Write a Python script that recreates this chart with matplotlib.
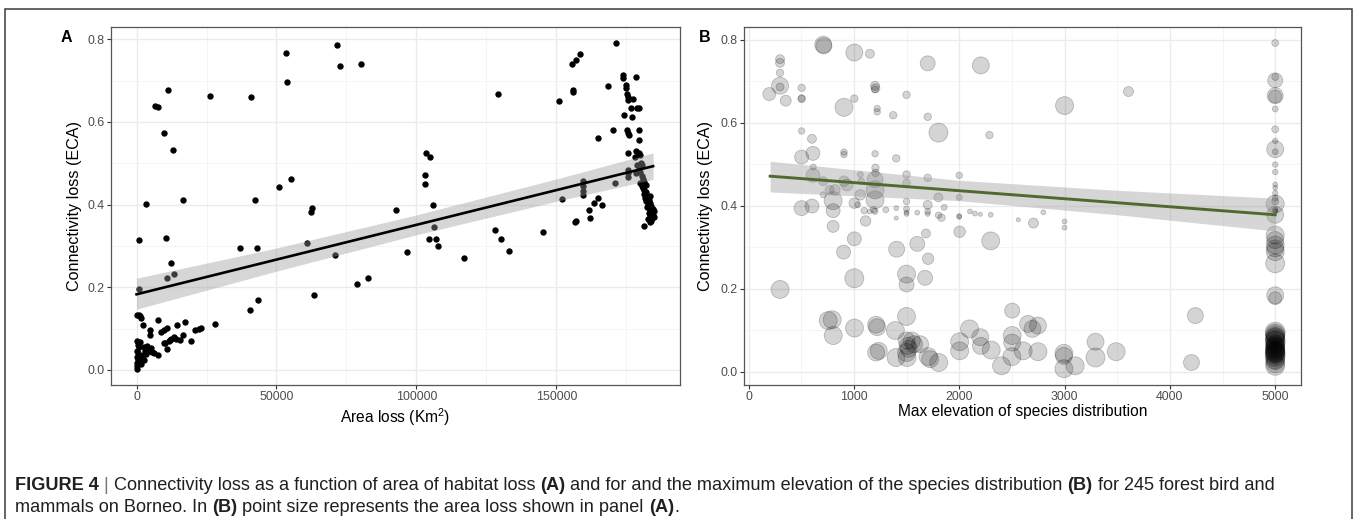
import numpy as np
import matplotlib
matplotlib.use("Agg")
import matplotlib.pyplot as plt
from matplotlib.patches import Rectangle

# ------------------------------------------------------------------ data
# Panel A: area loss (km2) vs connectivity loss (ECA)
area_loss_A = [
    71500, 53550, 72550, 80150, 53900, 26400, 40900, 11400, 6750, 7700,
    9700, 12900, 55100, 51050, 42400, 16450, 3550, 62550, 62200, 1050,
    10650, 36850, 42900, 60800, 12450, 13250, 10800, 70750, 78800, 82800,
    63250, 43350, 40500, 1050, 27950, 92900, 96800, 103000, 103000, 103550,
    104850, 105900, 106300, 104500, 106850, 107800, 117000, 129200, 128250, 130300,
    133200, 145400, 151100, 152100, 155500, 157000, 158500, 155850, 156000, 156700,
    157000, 159430, 159500, 159500, 159600, 161800, 162000, 163500, 165000, 166300,
    164800, 168550, 170100, 171300, 171050, 174000, 173900, 175000, 175000, 175300,
    175500, 175700, 174300, 175400, 175800, 176000, 175500, 175500, 175700, 175500,
    176700, 177000, 177500, 178400, 179000, 179600, 179400, 179600, 178600, 179400,
    178200, 179000, 179600, 178500, 180000, 180600, 181000, 181500, 182000, 181200,
    182500, 181800, 183000, 182200, 183500, 182800, 184000, 183200, 184500, 183800,
    184200, 183000, 184600, 183600, 184300, 182900, 184000, 183400, 181200, 180500,
    181000, 180000, 181500, 182000, 180300, 179800, 180800, 183500, 184800, 182500,
    184800, 0, 800, 1400, 1650, 2350, 4750, 4750, 7700, 8900,
    9700, 10900, 14450, 17200, 12450, 14200, 15600, 16600, 19550, 20950,
    22250, 23100, 10900, 10300, 11500, 12000, 13300, 9800, 1400, 0,
    2600, 3800, 4400, 2350, 1650, 3000, 7600, 5550, 5000, 6300,
    0, 0, 200, 400, 300, 600, 100, 800, 1000, 1500,
    2000, 2800, 3300, 500,
]
conn_loss_A = [
    0.786, 0.767, 0.736, 0.741, 0.696, 0.663, 0.660, 0.677, 0.639, 0.635,
    0.574, 0.533, 0.462, 0.442, 0.411, 0.412, 0.401, 0.392, 0.382, 0.314,
    0.320, 0.294, 0.296, 0.308, 0.258, 0.233, 0.223, 0.277, 0.209, 0.223,
    0.181, 0.169, 0.146, 0.196, 0.112, 0.386, 0.286, 0.471, 0.450, 0.524,
    0.514, 0.398, 0.347, 0.317, 0.317, 0.300, 0.270, 0.667, 0.338, 0.316,
    0.287, 0.334, 0.651, 0.414, 0.739, 0.751, 0.765, 0.677, 0.673, 0.357,
    0.361, 0.456, 0.444, 0.432, 0.424, 0.386, 0.368, 0.404, 0.417, 0.398,
    0.562, 0.687, 0.581, 0.791, 0.452, 0.707, 0.713, 0.689, 0.681, 0.667,
    0.661, 0.653, 0.617, 0.581, 0.573, 0.569, 0.525, 0.484, 0.476, 0.468,
    0.633, 0.613, 0.655, 0.709, 0.633, 0.633, 0.581, 0.557, 0.529, 0.525,
    0.516, 0.496, 0.492, 0.476, 0.452, 0.444, 0.440, 0.436, 0.430, 0.425,
    0.421, 0.416, 0.412, 0.408, 0.405, 0.400, 0.397, 0.393, 0.390, 0.386,
    0.382, 0.379, 0.376, 0.372, 0.368, 0.365, 0.361, 0.357, 0.348, 0.470,
    0.462, 0.480, 0.455, 0.447, 0.500, 0.520, 0.495, 0.420, 0.385, 0.395,
    0.370, 0.133, 0.133, 0.131, 0.125, 0.108, 0.097, 0.084, 0.121, 0.091,
    0.097, 0.101, 0.109, 0.115, 0.075, 0.076, 0.073, 0.084, 0.071, 0.097,
    0.100, 0.101, 0.051, 0.064, 0.071, 0.073, 0.080, 0.064, 0.067, 0.069,
    0.055, 0.059, 0.047, 0.035, 0.027, 0.045, 0.035, 0.044, 0.052, 0.040,
    0.003, 0.010, 0.018, 0.025, 0.032, 0.040, 0.047, 0.055, 0.021, 0.015,
    0.030, 0.024, 0.038, 0.060,
]
# fitted line + 95% band of panel A
fitA_x = [0, 50000, 100000, 150000, 184600]
fitA_y = [0.183, 0.267, 0.351, 0.435, 0.493]
fitA_lo = [0.147, 0.239, 0.327, 0.408, 0.461]
fitA_hi = [0.222, 0.295, 0.375, 0.462, 0.525]

# Panel B: max elevation vs connectivity loss; point size = area loss (km2)
elev_B = [
    709, 715, 1004, 1152, 1701, 2205, 299, 299, 299, 299,
    299, 197, 353, 504, 504, 504, 906, 1004, 1201, 1205,
    1201, 1221, 1221, 1373, 1500, 1701, 1803, 2287, 3607, 3000,
    504, 602, 504, 611, 906, 906, 1201, 1402, 615, 611,
    709, 770, 820, 709, 906, 934, 803, 803, 803, 504,
    602, 1004, 1061, 1070, 1061, 1037, 1098, 1111, 1205, 1205,
    1201, 1201, 1201, 1189, 1303, 1004, 902, 1004, 299, 1406,
    1602, 1684, 1705, 1676, 1500, 1500, 2004, 2299, 1500, 1500,
    1500, 1500, 1500, 1500, 1402, 1402, 1602, 1701, 1701, 1701,
    1701, 1803, 1803, 1832, 1857, 2000, 2000, 2000, 2000, 2102,
    2150, 2201, 2299, 2561, 2705, 2799, 3000, 3000, 1150, 1201,
    756, 794, 804, 1006, 1211, 1221, 1211, 1236, 1394, 1400,
    1500, 1500, 1510, 1500, 1505, 1550, 1570, 1520, 1629, 1705,
    1724, 1806, 2004, 2004, 2098, 2200, 2206, 2304, 2402, 2503,
    2503, 2503, 2500, 2607, 2654, 2695, 2748, 2748, 2994, 2994,
    2994, 3101, 3294, 3294, 3490, 4242, 4205,
    5000, 5000, 5000, 5000, 5000, 5000, 5000, 5000, 5000, 5000,
    5000, 5000, 5000, 5000, 5000, 5000, 5000, 5000, 5000, 5000,
    5000, 5000, 5000, 5000, 5000, 5000, 5000, 5000, 5000, 5000,
    5000, 5000, 5000, 5000, 5000, 5000, 5000, 5000, 5000, 5000,
    5000, 5000, 5000, 5000, 5000, 5000, 5000, 5000,
    5000, 5000, 5000, 5000, 5000, 5000, 5000, 5000,
]
conn_loss_B = [
    0.788, 0.785, 0.769, 0.766, 0.743, 0.738, 0.753, 0.744, 0.720, 0.689,
    0.686, 0.669, 0.653, 0.684, 0.657, 0.659, 0.637, 0.658, 0.689, 0.683,
    0.680, 0.634, 0.626, 0.618, 0.667, 0.614, 0.576, 0.570, 0.675, 0.641,
    0.580, 0.561, 0.517, 0.526, 0.529, 0.523, 0.525, 0.514, 0.493, 0.473,
    0.459, 0.438, 0.438, 0.426, 0.459, 0.450, 0.412, 0.388, 0.350, 0.394,
    0.399, 0.406, 0.475, 0.459, 0.426, 0.402, 0.388, 0.363, 0.491, 0.479,
    0.463, 0.438, 0.414, 0.390, 0.390, 0.320, 0.288, 0.225, 0.198, 0.295,
    0.308, 0.333, 0.272, 0.226, 0.235, 0.210, 0.337, 0.315, 0.475, 0.455,
    0.410, 0.392, 0.380, 0.384, 0.394, 0.370, 0.383, 0.467, 0.402, 0.386,
    0.380, 0.420, 0.377, 0.371, 0.396, 0.473, 0.420, 0.375, 0.373, 0.386,
    0.381, 0.379, 0.378, 0.366, 0.358, 0.384, 0.362, 0.347, 0.386, 0.386,
    0.123, 0.125, 0.087, 0.105, 0.113, 0.107, 0.046, 0.050, 0.099, 0.034,
    0.133, 0.075, 0.062, 0.046, 0.034, 0.075, 0.066, 0.055, 0.066, 0.036,
    0.030, 0.022, 0.072, 0.050, 0.103, 0.083, 0.062, 0.052, 0.014, 0.147,
    0.087, 0.070, 0.036, 0.050, 0.115, 0.103, 0.111, 0.048, 0.044, 0.038,
    0.007, 0.014, 0.072, 0.034, 0.048, 0.135, 0.022,
    0.792, 0.710, 0.702, 0.665, 0.663, 0.633, 0.584, 0.556, 0.536, 0.530,
    0.499, 0.481, 0.451, 0.443, 0.430, 0.418, 0.410, 0.404, 0.390, 0.388,
    0.386, 0.378, 0.329, 0.317, 0.305, 0.297, 0.289, 0.261, 0.184, 0.177,
    0.095, 0.088, 0.082, 0.078, 0.072, 0.068, 0.062, 0.058, 0.055, 0.050,
    0.046, 0.044, 0.040, 0.035, 0.030, 0.026, 0.020, 0.014,
    0.092, 0.085, 0.075, 0.065, 0.060, 0.052, 0.048, 0.042,
]
area_loss_B = [
    121900, 103800, 121900, 18000, 87200, 121900, 18000, 18000, 8800, 121900,
    11500, 58400, 35300, 8800, 8800, 6500, 141300, 8800, 18000, 18000,
    6500, 4500, 4500, 8800, 8800, 8800, 162200, 8800, 26000, 141300,
    4500, 18000, 72100, 72100, 4500, 4500, 4500, 8800, 2900, 72100,
    18000, 18000, 30500, 2900, 30500, 46100, 141300, 72100, 46100, 87200,
    72100, 30500, 2900, 4500, 30500, 2900, 4500, 30500, 8800, 8800,
    103800, 141300, 141300, 4500, 2900, 72100, 72100, 162200, 141300, 103800,
    87200, 18000, 40600, 87200, 141300, 87200, 40600, 141300, 8800, 8800,
    4500, 2900, 700, 700, 700, 200, 700, 8800, 18000, 2900,
    700, 18000, 4500, 8800, 2900, 4500, 2900, 700, 700, 700,
    700, 200, 700, 200, 26000, 700, 700, 700, 700, 2900,
    141300, 141300, 141300, 141300, 121900, 121900, 121900, 121900, 141300, 141300,
    141300, 121900, 121900, 141300, 141300, 121900, 121900, 121900, 121900, 141300,
    121900, 141300, 141300, 141300, 141300, 121900, 121900, 141300, 141300, 87200,
    141300, 121900, 141300, 141300, 121900, 121900, 121900, 141300, 141300, 121900,
    141300, 141300, 121900, 162200, 141300, 103800, 103800,
    6500, 6500, 87200, 103800, 58400, 2900, 6500, 1600, 121900, 2900,
    1600, 1600, 700, 700, 1600, 2900, 6500, 141300, 1600, 200,
    700, 121900, 141300, 121900, 141300, 121900, 141300, 162200, 121900, 58400,
    184600, 162200, 162200, 162200, 184600, 141300, 141300, 162200, 162200, 162200,
    162200, 162200, 184600, 162200, 162200, 141300, 162200, 162200,
    162200, 141300, 162200, 141300, 162200, 141300, 162200, 141300,
]
# fitted line + 95% band of panel B
fitB_x = [205, 2000, 3500, 5000]
fitB_y = [0.471, 0.436, 0.407, 0.378]
fitB_lo = [0.433, 0.412, 0.378, 0.339]
fitB_hi = [0.507, 0.461, 0.437, 0.418]

xticks_A = [0, 50000, 100000, 150000]
xticks_B = [0, 1000, 2000, 3000, 4000, 5000]
yticks = [0.0, 0.2, 0.4, 0.6, 0.8]

# ------------------------------------------------------------------ style
plt.rcParams["font.family"] = ["Liberation Sans", "DejaVu Sans"]
plt.rcParams["mathtext.fontset"] = "custom"
plt.rcParams["mathtext.rm"] = "Liberation Sans"
plt.rcParams["mathtext.it"] = "Liberation Sans:italic"

W, H = 1358, 519
fig = plt.figure(figsize=(W / 100, H / 100), dpi=100)


def rect(l, t, r, b):
    return [l / W, 1 - b / H, (r - l) / W, (b - t) / H]


axA = fig.add_axes(rect(110.7, 26.7, 679.5, 385))
axB = fig.add_axes(rect(744, 26.7, 1300.5, 385))


def expand(vals, mult=0.05):
    lo, hi = min(vals), max(vals)
    d = (hi - lo) * mult
    return lo - d, hi + d


def style(ax, xt, yt, xlim, ylim):
    ax.set_xlim(*xlim)
    ax.set_ylim(*ylim)
    ax.set_xticks(xt)
    ax.set_yticks(yt)
    sx = xt[1] - xt[0]
    sy = yt[1] - yt[0]
    mx = [v for v in np.arange(xt[0] - sx / 2, xlim[1], sx) if xlim[0] < v < xlim[1]]
    my = [v for v in np.arange(yt[0] - sy / 2, ylim[1], sy) if ylim[0] < v < ylim[1]]
    ax.set_xticks(mx, minor=True)
    ax.set_yticks(my, minor=True)
    ax.grid(which="major", color="#EBEBEB", lw=0.95)
    ax.grid(which="minor", color="#F3F3F3", lw=0.55)
    ax.set_axisbelow(True)
    ax.tick_params(which="minor", length=0)
    ax.tick_params(which="major", length=2.6, width=0.8, color="#333333",
                   labelsize=8.9, labelcolor="#4D4D4D", pad=2)
    ax.yaxis.set_major_formatter(matplotlib.ticker.FormatStrFormatter("%.1f"))
    ax.xaxis.set_major_formatter(matplotlib.ticker.FormatStrFormatter("%d"))
    for s in ax.spines.values():
        s.set_color("#555555")
        s.set_linewidth(0.9)


# ---- panel A
axA.scatter(area_loss_A, conn_loss_A, s=21, color="black", linewidths=0, zorder=3)
axA.fill_between(fitA_x, fitA_lo, fitA_hi, color="#999999", alpha=0.4, lw=0, zorder=4)
axA.plot(fitA_x, fitA_y, color="black", lw=1.9, zorder=5)
style(axA, xticks_A, yticks, expand(area_loss_A), expand(conn_loss_A))

# ---- panel B
amin, amax = min(area_loss_B), max(area_loss_B)
dmin_px, dmax_px = 4.0, 20.0
diam = dmin_px + (dmax_px - dmin_px) * np.sqrt((np.array(area_loss_B) - amin) / (amax - amin))
sizes = (diam * 0.72) ** 2
axB.scatter(elev_B, conn_loss_B, s=sizes, facecolor=(0, 0, 0, 0.17),
            edgecolor=(0, 0, 0, 0.22), linewidths=0.6, zorder=3)
axB.fill_between(fitB_x, fitB_lo, fitB_hi, color="#999999", alpha=0.4, lw=0, zorder=4)
axB.plot(fitB_x, fitB_y, color="#4E6B2C", lw=2.1, zorder=5)
style(axB, xticks_B, yticks, expand(elev_B), expand(conn_loss_B))

# axis titles
for ax, xl, ylx, xly in ((axA, "Area loss (Km$^2$)", 74, 406),
                         (axB, "Max elevation of species distribution", 705, 404)):
    ax.set_xlabel(xl, fontsize=11.2, color="black")
    ax.xaxis.label.set_va("top")
    bb = ax.get_position()
    ax.xaxis.set_label_coords(0.5, ((1 - xly / H) - bb.y0) / bb.height)
    ax.set_ylabel("Connectivity loss (ECA)", fontsize=11.6, color="black")
    ax.yaxis.label.set_va("center")
    ax.yaxis.set_label_coords((ylx / W - bb.x0) / bb.width, 0.5)

# panel letters
fig.text(66 / W, 1 - 37 / H, "A", fontsize=11.5, fontweight="bold", ha="center", va="center")
fig.text(705 / W, 1 - 37 / H, "B", fontsize=11.5, fontweight="bold", ha="center", va="center")

# outer frame
fig.add_artist(Rectangle((5 / W, -0.01), (1352 - 5) / W, 1.01 - 9 / H, transform=fig.transFigure,
                         fill=False, edgecolor="#3a3a3a", lw=1.1))

# ------------------------------------------------------------------ caption
renderer = fig.canvas.get_renderer()
TXT = "#231F20"
BAR = "#777777"
line1 = [("FIGURE 4", "bold", TXT), (" | ", "normal", BAR),
         ("Connectivity loss as a function of area of habitat loss ", "normal", TXT),
         ("(A)", "bold", TXT),
         (" and for and the maximum elevation of the species distribution ", "normal", TXT),
         ("(B)", "bold", TXT), (" for 245 forest bird and", "normal", TXT)]
line2 = [("mammals on Borneo. In ", "normal", TXT), ("(B)", "bold", TXT),
         (" point size represents the area loss shown in panel ", "normal", TXT),
         ("(A)", "bold", TXT), (".", "normal", TXT)]


def run_width(s, size, weight):
    t1 = fig.text(0, 0, "|" + s + "|", fontsize=size, fontweight=weight)
    t2 = fig.text(0, 0, "||", fontsize=size, fontweight=weight)
    w = t1.get_window_extent(renderer).width - t2.get_window_extent(renderer).width
    t1.remove()
    t2.remove()
    return w


base = 12.0
w1 = sum(run_width(s, base, wt) for s, wt, _ in line1)
cap_size = base * (1283 - 15) / w1


def draw_line(runs, x0, ybase):
    x = x0
    for s, wt, c in runs:
        fig.text(x / W, 1 - ybase / H, s, fontsize=cap_size, fontweight=wt, color=c,
                 va="baseline", ha="left")
        x += run_width(s, cap_size, wt)


draw_line(line1, 15, 489.5)
draw_line(line2, 15, 511.5)

fig.savefig("out.png", dpi=100)
